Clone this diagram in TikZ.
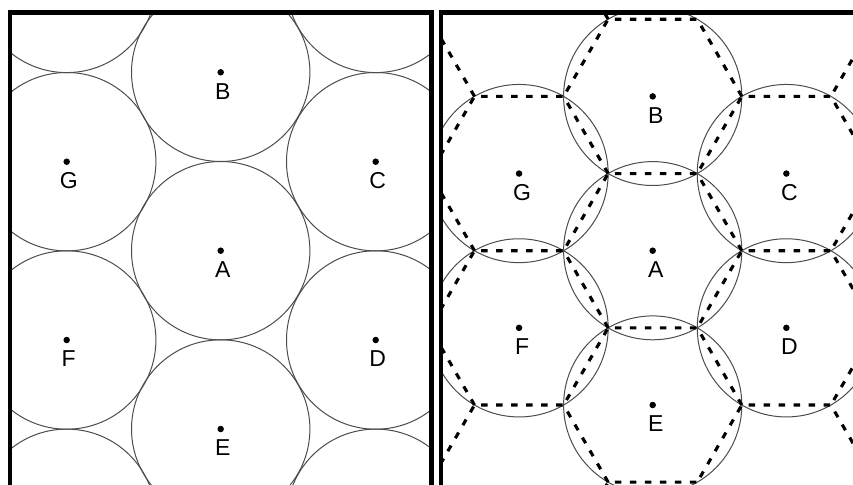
\documentclass[tikz,border=0pt]{standalone}
\usepackage{fontspec}
\setmainfont{Liberation Sans}
\usetikzlibrary{calc}

\begin{document}
\begin{tikzpicture}[
  x=1pt, y=-1pt,
  frame/.style={
      line width=4.5pt,
      line join=miter
    },
  cell/.style={
      draw=black!70,
      line width=1pt
    },
  hex edge/.style={
      line width=3.1pt,
      dash pattern=on 6.5pt off 8.5pt,
      line join=round
    },
  dot/.style={
      inner sep=0pt,
      circle,
      fill=black,
      minimum size=6.5pt
    },
  site label/.style={
      inner sep=0pt,
      font=\fontsize{23}{27}\selectfont
    }]
  \useasboundingbox (0,0) rectangle (853,484);

  % tangent circles
  \begin{scope}
    \clip (10,12.5) rectangle (431.3,490);
    \foreach \x/\y in {66.7/-16.6, 66.7/161.7, 66.7/340, 66.7/518.3,
                       220.7/72.3, 220.7/250.7, 220.7/429,
                       375.7/-16.6, 375.7/161.7, 375.7/340, 375.7/518.3}
      \draw [cell] (\x,\y) circle [radius=89.2];
  \end{scope}

  \foreach \n/\x/\y in {A/220.7/250.7, B/220.7/72.3, C/375.7/161.7, D/375.7/340,
                        E/220.7/429, F/66.7/340, G/66.7/161.7} {
    \node [dot] (\n) at (\x,\y) {};
    \node [site label] at ($(\n) + (2, 19)$) {\n};
  }

  % hexagonal cells
  \begin{scope}
    \clip (440.8,12.5) rectangle (860,490);
    \foreach \n/\x/\y in {A'/652.7/250.7, B'/652.7/96.4, C'/786.35/173.55, D'/786.35/327.85,
                          E'/652.7/405, F'/519.05/327.85, G'/519.05/173.55}
      \draw [cell] (\x,\y) circle [radius=89.1];
    \foreach \i in {-2,...,2}
      \foreach \j in {-2,...,2} {
        \pgfmathsetmacro\cx{652.7+\i*133.65}
        \pgfmathsetmacro\cy{250.7+\j*154.3+mod(abs(\i),2)*77.15}
        \draw [hex edge] (\cx+89.1,\cy) -- ++(-44.55,-77.15) -- ++(-89.1,0) -- ++(-44.55,77.15);
      }
  \end{scope}

  \foreach \n/\x/\y in {A/652.7/250.7, B/652.7/96.4, C/786.35/173.55, D/786.35/327.85,
                        E/652.7/405, F/519.05/327.85, G/519.05/173.55} {
    \node [dot] (\n') at (\x,\y) {};
    \node [site label] at ($(\n') + (3, 19)$) {\n};
  }

  \draw [frame] (10,490) -- (10,12.5) -- (431.3,12.5) -- (431.3,490);
  \draw [frame] (440.8,490) -- (440.8,12.5) -- (860,12.5);
\end{tikzpicture}
\end{document}
